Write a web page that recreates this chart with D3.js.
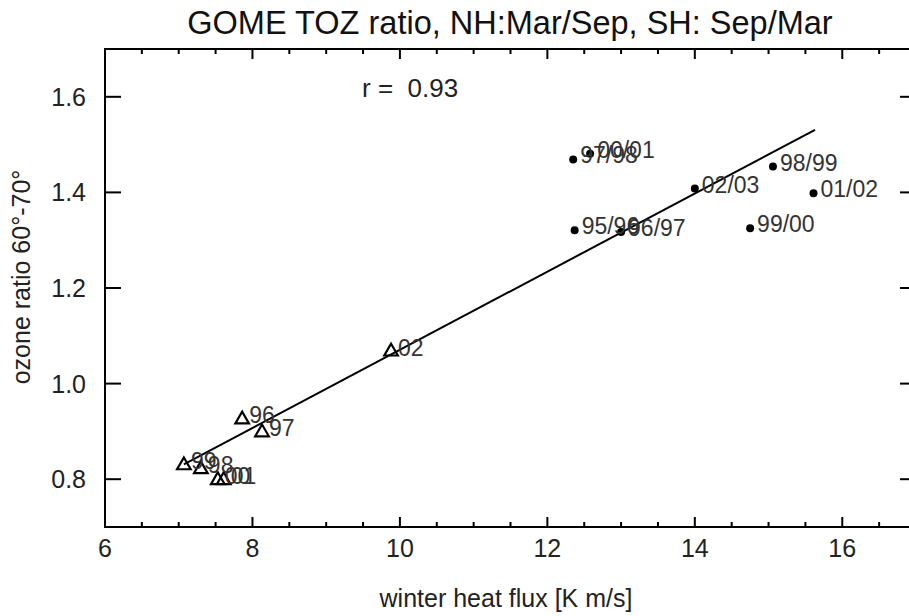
<!DOCTYPE html>
<html>
<head>
<meta charset="utf-8">
<script src="https://cdn.jsdelivr.net/npm/d3@7"></script>
<style>
  body { margin: 0; background: #fff; }
  svg { display: block; font-family: "Liberation Sans", Arial, Helvetica, sans-serif; }
</style>
</head>
<body>
<svg id="chart" width="909" height="616"></svg>
<script>
// northern hemisphere winters (dots)
var nhLabels = ["97/98", "00/01", "02/03", "98/99", "01/02", "99/00", "95/96", "96/97"];
var nhFlux   = [12.35, 12.58, 14.00, 15.06, 15.61, 14.75, 12.37, 13.00];
var nhRatio  = [1.469, 1.481, 1.408, 1.454, 1.398, 1.325, 1.321, 1.317];

// southern hemisphere winters (triangles)
var shLabels = ["02", "96", "97", "99", "98", "00", "01"];
var shFlux   = [9.88, 7.86, 8.13, 7.07, 7.30, 7.53, 7.61];
var shRatio  = [1.067, 0.925, 0.898, 0.829, 0.821, 0.798, 0.798];

// fitted line as drawn
var fitX = [7.07, 15.63];
var fitY = [0.831, 1.531];
var corr = "0.93";

var xTicks = [6, 8, 10, 12, 14, 16];
var yTicks = [0.8, 1.0, 1.2, 1.4, 1.6];

var svg = d3.select("#chart");
var pl = 105, pr = 916, pt = 49, pb = 527;

var x = d3.scaleLinear().domain([6, 17]).range([pl, pr]);
var y = d3.scaleLinear().domain([0.7, 1.7]).range([pb, pt]);

// frame
svg.append("rect")
    .attr("x", pl).attr("y", pt)
    .attr("width", pr - pl).attr("height", pb - pt)
    .attr("fill", "none").attr("stroke", "#000").attr("stroke-width", 2);

// x ticks, bottom and top, minor every 0.5
var xMinor = d3.range(6, 17.01, 0.5);
xMinor.forEach(function(v) {
    var major = Math.abs(v - Math.round(v / 2) * 2) < 1e-6;
    var len = major ? 10 : 5;
    svg.append("line").attr("x1", x(v)).attr("x2", x(v))
        .attr("y1", pb).attr("y2", pb - len)
        .attr("stroke", "#000").attr("stroke-width", 2);
    svg.append("line").attr("x1", x(v)).attr("x2", x(v))
        .attr("y1", pt).attr("y2", pt + len)
        .attr("stroke", "#000").attr("stroke-width", 2);
});
svg.selectAll(".xl").data(xTicks).enter().append("text")
    .attr("x", function(d) { return x(d); })
    .attr("y", 557)
    .attr("text-anchor", "middle")
    .attr("font-size", 25).attr("fill", "#222")
    .text(function(d) { return d; });

// y ticks, left and right
yTicks.forEach(function(v) {
    svg.append("line").attr("x1", pl).attr("x2", pl + 16)
        .attr("y1", y(v)).attr("y2", y(v))
        .attr("stroke", "#000").attr("stroke-width", 2);
    svg.append("line").attr("x1", pr).attr("x2", pr - 16)
        .attr("y1", y(v)).attr("y2", y(v))
        .attr("stroke", "#000").attr("stroke-width", 2);
});
svg.selectAll(".yl").data(yTicks).enter().append("text")
    .attr("x", 86)
    .attr("y", function(d) { return y(d) + 9; })
    .attr("text-anchor", "end")
    .attr("font-size", 25).attr("fill", "#222")
    .text(function(d) { return d3.format(".1f")(d); });

// titles
svg.append("text").attr("x", 510).attr("y", 34)
    .attr("text-anchor", "middle").attr("font-size", 32.5).attr("fill", "#111")
    .text("GOME TOZ ratio, NH:Mar/Sep, SH: Sep/Mar");
svg.append("text").attr("x", 506).attr("y", 607)
    .attr("text-anchor", "middle").attr("font-size", 25).attr("fill", "#222")
    .text("winter heat flux [K m/s]");
svg.append("text")
    .attr("transform", "translate(30,277) rotate(-90)")
    .attr("text-anchor", "middle").attr("font-size", 25).attr("fill", "#222")
    .text("ozone ratio 60°-70°");

svg.append("text").attr("x", 362).attr("y", 97)
    .attr("font-size", 26).attr("fill", "#222")
    .style("white-space", "pre")
    .text("r =  " + corr);

// regression line
svg.append("line")
    .attr("x1", x(fitX[0])).attr("y1", y(fitY[0]))
    .attr("x2", x(fitX[1])).attr("y2", y(fitY[1]))
    .attr("stroke", "#000").attr("stroke-width", 2);

// NH dots
var nh = nhLabels.map(function(l, i) { return {label: l, fx: nhFlux[i], r: nhRatio[i]}; });
svg.selectAll(".nh").data(nh).enter().append("circle")
    .attr("cx", function(d) { return x(d.fx); })
    .attr("cy", function(d) { return y(d.r); })
    .attr("r", 4).attr("fill", "#000");
svg.selectAll(".nht").data(nh).enter().append("text")
    .attr("x", function(d) { return x(d.fx) + 7; })
    .attr("y", function(d) { return y(d.r) + 4; })
    .attr("font-size", 23).attr("fill", "#333")
    .text(function(d) { return d.label; });

// SH triangles
var sh = shLabels.map(function(l, i) { return {label: l, fx: shFlux[i], r: shRatio[i]}; });
var tri = d3.symbol().type(d3.symbolTriangle).size(80);
svg.selectAll(".sh").data(sh).enter().append("path")
    .attr("d", tri)
    .attr("transform", function(d) { return "translate(" + x(d.fx) + "," + y(d.r) + ")"; })
    .attr("fill", "none").attr("stroke", "#000").attr("stroke-width", 2.2);
svg.selectAll(".sht").data(sh).enter().append("text")
    .attr("x", function(d) { return x(d.fx) + 7; })
    .attr("y", function(d) { return y(d.r) + 4; })
    .attr("font-size", 23).attr("fill", "#333")
    .text(function(d) { return d.label; });
</script>
</body>
</html>
